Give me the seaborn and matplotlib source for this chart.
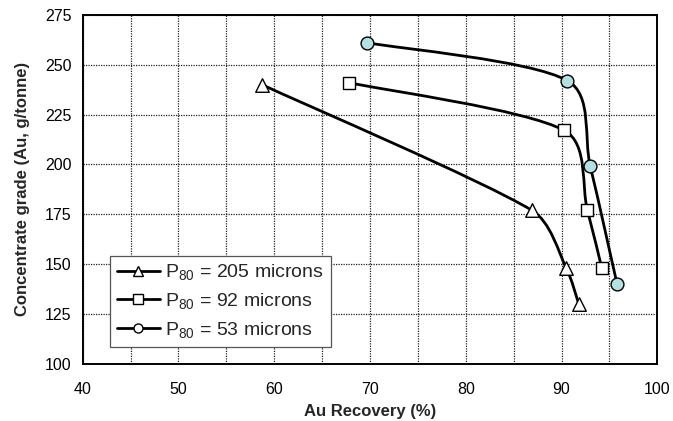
import numpy as np
import pandas as pd
import matplotlib
matplotlib.use("Agg")
import matplotlib.pyplot as plt
from matplotlib.path import Path
from matplotlib.patches import PathPatch
from matplotlib.lines import Line2D
import seaborn as sns

# Au recovery (%) and concentrate grade (g/t) for each grind size
rec_205 = [58.7, 86.9, 90.5, 91.8]
grade_205 = [240, 177, 148, 130]

rec_92 = [67.8, 90.3, 92.7, 94.2]
grade_92 = [241, 217, 177, 148]

rec_53 = [69.7, 90.6, 93.0, 95.8]
grade_53 = [261, 242, 199, 140]

series_labels = [r"P$_{80}$ = 205 microns", r"P$_{80}$ = 92 microns", r"P$_{80}$ = 53 microns"]

x_ticks = [40, 50, 60, 70, 80, 90, 100]
y_ticks = [100, 125, 150, 175, 200, 225, 250, 275]

sns.set_theme(style="white")
plt.rcParams["font.family"] = ["Liberation Sans", "DejaVu Sans"]
plt.rcParams["mathtext.fontset"] = "custom"
plt.rcParams["mathtext.rm"] = "Liberation Sans"
plt.rcParams["mathtext.it"] = "Liberation Sans"

frames = []
for lab, xs, ys in [(series_labels[0], rec_205, grade_205),
                    (series_labels[1], rec_92, grade_92),
                    (series_labels[2], rec_53, grade_53)]:
    frames.append(pd.DataFrame({"recovery": xs, "grade": ys, "series": lab}))
df = pd.concat(frames, ignore_index=True)

fig = plt.figure(figsize=(6.73, 4.21), dpi=100)
ax = fig.add_axes([0.1229, 0.1354, 0.8538, 0.8296])
ax.set_xlim(40, 100)
ax.set_ylim(100, 275)


def smooth_path(xs, ys, kmax=0.33):
    """Smoothed line: Catmull-Rom Bezier in screen space, handles capped per segment."""
    p = ax.transData.transform(np.column_stack([xs, ys]).astype(float))
    n = len(p)
    tang = [(p[min(i + 1, n - 1)] - p[max(i - 1, 0)]) / 6.0 for i in range(n)]
    verts = [p[0]]
    codes = [Path.MOVETO]
    for i in range(n - 1):
        seg = np.hypot(*(p[i + 1] - p[i]))
        t1, t2 = tang[i], tang[i + 1]
        lim = seg * kmax
        if np.hypot(*t1) > lim:
            t1 = t1 / np.hypot(*t1) * lim
        if np.hypot(*t2) > lim:
            t2 = t2 / np.hypot(*t2) * lim
        verts += [p[i] + t1, p[i + 1] - t2, p[i + 1]]
        codes += [Path.CURVE4] * 3
    verts = ax.transData.inverted().transform(np.array(verts))
    return Path(verts, codes)


for xs, ys in [(rec_205, grade_205), (rec_92, grade_92), (rec_53, grade_53)]:
    ax.add_patch(PathPatch(smooth_path(xs, ys), facecolor="none",
                           edgecolor="black", lw=2.0, zorder=3))

markers = {series_labels[0]: "^", series_labels[1]: "s", series_labels[2]: "o"}
fills = {series_labels[0]: "white", series_labels[1]: "white", series_labels[2]: "#b5e0e2"}
sizes = {series_labels[0]: 95, series_labels[1]: 80, series_labels[2]: 85}
for lab in series_labels:
    sub = df[df["series"] == lab]
    sns.scatterplot(data=sub, x="recovery", y="grade", ax=ax, marker=markers[lab],
                    color=fills[lab], edgecolor="black", linewidth=1.0,
                    s=sizes[lab], zorder=4, legend=False)

ax.set_xlim(40, 100)
ax.set_ylim(100, 275)
ax.set_xticks(x_ticks)
ax.set_yticks(y_ticks)
ax.set_xticks(np.arange(45, 100, 10), minor=True)

ax.grid(True, which="both", axis="x", color="#222222", lw=0.9, linestyle=(0, (1, 1)))
ax.grid(True, which="major", axis="y", color="#222222", lw=0.9, linestyle=(0, (1, 1)))
ax.set_axisbelow(True)

for sp in ax.spines.values():
    sp.set_color("black")
    sp.set_linewidth(1.4)
    sp.set_visible(True)

ax.tick_params(axis="both", which="major", direction="out", length=4, width=1.2,
               color="black", labelsize=11.5, labelcolor="black")
ax.tick_params(axis="x", which="major", pad=9)
ax.tick_params(axis="y", which="major", pad=4)
ax.tick_params(axis="x", which="minor", length=0)

ax.set_xlabel("Au Recovery (%)", fontsize=12, fontweight="bold", labelpad=5)
ax.set_ylabel("Concentrate grade (Au, g/tonne)", fontsize=12, fontweight="bold", labelpad=11)

handles = [
    Line2D([], [], color="black", lw=2.0, marker="^", markersize=7,
           markerfacecolor="white", markeredgecolor="black", markeredgewidth=1.0),
    Line2D([], [], color="black", lw=2.0, marker="s", markersize=6.5,
           markerfacecolor="white", markeredgecolor="black", markeredgewidth=1.0),
    Line2D([], [], color="black", lw=2.0, marker="o", markersize=6.5,
           markerfacecolor="white", markeredgecolor="black", markeredgewidth=1.0),
]
leg = ax.legend(handles, series_labels, loc="lower left",
                bbox_to_anchor=(0.0475, 0.0495), fontsize=14,
                frameon=True, fancybox=False, framealpha=1, edgecolor="#555555",
                handlelength=2.2, handletextpad=0.3, labelspacing=0.45,
                borderpad=0.35, borderaxespad=0)
leg.get_frame().set_linewidth(0.9)
leg.set_zorder(5)

fig.savefig("out.png", dpi=100, facecolor="white")
